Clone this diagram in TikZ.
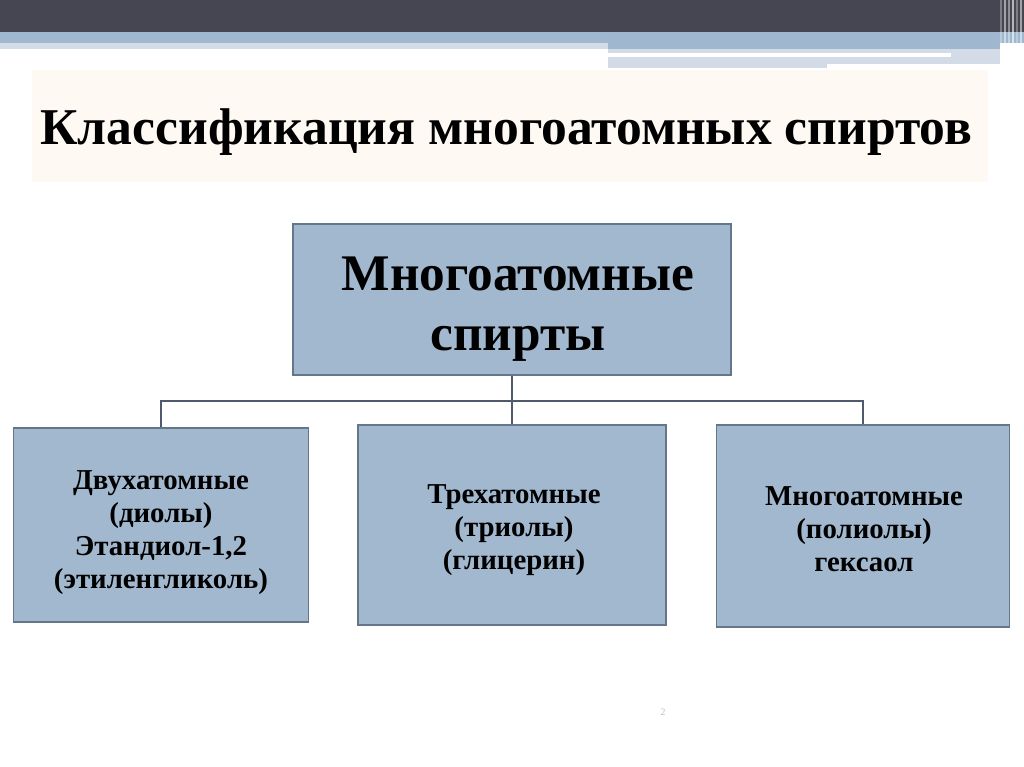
\documentclass[tikz,border=0pt]{standalone}
\usepackage{fontspec}
\setmainfont{Liberation Serif}
\definecolor{bardark}{HTML}{464653}
\definecolor{barblue}{HTML}{9FB8CF}
\definecolor{barlight}{HTML}{D3DCE6}
\definecolor{titlebg}{HTML}{FEFAF3}
\definecolor{boxfill}{HTML}{A2B8CE}
\definecolor{boxline}{HTML}{66768A}
\definecolor{linkline}{HTML}{4F5A6E}
\tikzset{
  box/.style={draw=boxline, line width=1.3pt, fill=boxfill, inner sep=0pt},
  boxtext/.style={align=center, inner sep=0pt, font=\bfseries\fontsize{20.5}{23.5}\selectfont},
  link/.style={draw=linkline, line width=1.3pt}
}

\begin{document}
\begin{tikzpicture}[x=0.025cm,y=-0.025cm]
        \useasboundingbox (0,0) rectangle (1024,767);
        \fill[white] (0,0) rectangle (1024,767);
        % top bars
        \fill[bardark] (0,0) rectangle (1024,32);
        \fill[barblue] (0,32) rectangle (1024,43);
        \fill[barlight] (0,43) rectangle (608,49);
        \fill[barblue] (608,43) rectangle (1000,49);
        \fill[barlight] (608,49) rectangle (1000,68);
        \fill[white] (608,53) rectangle (951,57);
        \fill[white] (827,64) rectangle (1000,68);
        \foreach \x/\o in {1000/0.3,1004/0.5,1008/0.4,1012/0.6,1016/0.3,1020/0.5}
                \fill[white, opacity=\o] (\x,0) rectangle ++(2,68);
        % title
        \fill[titlebg] (32,70) rectangle (988,182);
        \node (title) [anchor=base west, inner sep=0pt,
                font=\bfseries\fontsize{36.7}{40}\selectfont] at (40,145)
                {Классификация многоатомных спиртов};
        % boxes
        \node (root) [box, minimum width=10.95cm, minimum height=3.775cm] at (512,299.5) {};
        \node (roottext) [align=center, inner sep=0pt,
                font=\bfseries\fontsize{36.5}{42.7}\selectfont] at (518,309)
                {Многоатомные\\спирты};
        \node (diol) [box, minimum width=7.375cm, minimum height=4.85cm] at (161,525) {};
        \node (dioltext) [boxtext] at (161,533) {Двухатомные\\(диолы)\\Этандиол-1,2\\(этиленгликоль)};
        \node (triol) [box, minimum width=7.7cm, minimum height=5cm] at (512,525) {};
        \node (trioltext) [boxtext] at (514,530) {Трехатомные\\(триолы)\\(глицерин)};
        \node (poly) [box, minimum width=7.325cm, minimum height=5.05cm] at (863,526) {};
        \node (polytext) [boxtext] at (864,529) {Многоатомные\\(полиолы)\\гексаол};
        \coordinate (fork) at (512,401);
        \draw[link] (root.south) -- (fork);
        \draw[link] (fork) -| (diol.north);
        \draw[link] (fork) -| (poly.north);
        \draw[link] (fork) -- (triol.north);
        % page number
        \node (page) [text=gray!50, font=\fontsize{7}{8}\selectfont] at (663,712) {2};
\end{tikzpicture}
\end{document}
